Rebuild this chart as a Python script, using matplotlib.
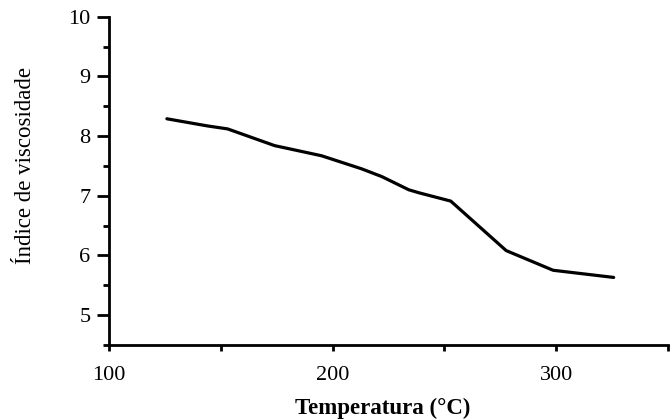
import matplotlib
matplotlib.use("Agg")
from matplotlib import pyplot as plt
from matplotlib.ticker import MultipleLocator

# values
temperatura = [125.8, 144, 153, 174, 195, 213, 222, 234, 238.5, 252.8, 277.6, 298.6, 325.7]
indice = [8.29, 8.17, 8.12, 7.84, 7.67, 7.45, 7.32, 7.10, 7.05, 6.91, 6.08, 5.75, 5.63]

x_ticks = [100, 200, 300]
y_ticks = [5, 6, 7, 8, 9, 10]

plt.rcParams["font.family"] = ["Liberation Serif", "DejaVu Serif"]

fig = plt.figure(figsize=(6.7, 4.2), dpi=100)
ax = fig.add_axes([0.163, 0.179, 0.834, 0.781])

ax.plot(temperatura, indice, color="black", lw=2.3, solid_capstyle="round")

ax.set_xlim(100, 350)
ax.set_ylim(4.5, 10)
ax.set_xticks(x_ticks)
ax.set_yticks(y_ticks)
ax.xaxis.set_minor_locator(MultipleLocator(50))
ax.yaxis.set_minor_locator(MultipleLocator(0.5))

ax.spines["top"].set_visible(False)
ax.spines["right"].set_visible(False)
for s in ("left", "bottom"):
    ax.spines[s].set_linewidth(2)

ax.tick_params(axis="y", which="major", length=8.5, width=2, labelsize=16, pad=5)
ax.tick_params(axis="y", which="minor", length=4, width=2)
ax.tick_params(axis="x", which="both", length=4, width=2, labelsize=16, pad=11)

# axis titles placed by hand to sit where the scan has them
fig.text(383 / 670, 1 - 408 / 420, "Temperatura (°C)", fontsize=16.5,
         fontweight="bold", ha="center", va="center")
fig.text(26 / 670, 1 - 166 / 420, "Índice de viscosidade", fontsize=16.5,
         rotation=90, ha="center", va="center")

fig.savefig("out.png", dpi=100)
